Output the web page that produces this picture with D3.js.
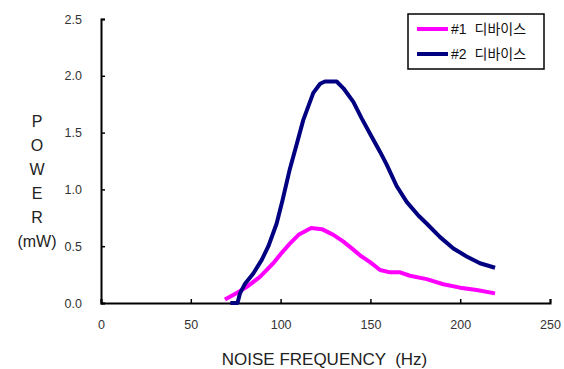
<!DOCTYPE html>
<html>
<head>
<meta charset="utf-8">
<script src="https://cdn.jsdelivr.net/npm/d3@7"></script>
<style>
  body { margin: 0; background: #fff; }
  text { font-family: "Liberation Sans", "Noto Sans CJK KR", sans-serif; }
</style>
</head>
<body>
<div id="chart"></div>
<script>
// values
const xTicks = [0, 50, 100, 150, 200, 250];
const yTicks = [0, 0.5, 1.0, 1.5, 2.0, 2.5];
const seriesTags = ["#1", "#2"];
const seriesNames = ["디바이스", "디바이스"];
const seriesColors = ["#ff00ff", "#000080"];

const dev1 = [
  [69, 0.03], [74.6, 0.08], [81, 0.14], [88.5, 0.23], [95.9, 0.35], [100, 0.43],
  [105, 0.52], [110, 0.6], [117, 0.66], [123, 0.65], [129.4, 0.6], [135, 0.54],
  [140.5, 0.47], [144.2, 0.42], [149.8, 0.36], [155.4, 0.29], [160.9, 0.27],
  [166.5, 0.27], [172, 0.24], [181.3, 0.21], [190.6, 0.165], [199.9, 0.135],
  [209.2, 0.115], [219.4, 0.085]
];
const dev2 = [
  [72, 0.0], [76, 0.0], [77.4, 0.085], [80.2, 0.17], [84.8, 0.26], [89.5, 0.38],
  [93.2, 0.5], [97.8, 0.7], [101, 0.9], [105, 1.17], [109, 1.4], [112.6, 1.61],
  [118.2, 1.85], [122, 1.93], [124.7, 1.95], [131.2, 1.95], [135, 1.89],
  [140.5, 1.77], [145, 1.63], [149.8, 1.49], [155.4, 1.33], [159, 1.22],
  [164.6, 1.03], [170.2, 0.89], [176.7, 0.77], [181.3, 0.7], [188.8, 0.58],
  [196.2, 0.48], [203.6, 0.41], [211, 0.35], [219.4, 0.31]
];

const width = 564, height = 369;
const margin = { left: 101, right: 14, top: 19, bottom: 66 };

const svg = d3.select("#chart").append("svg")
  .attr("width", width)
  .attr("height", height);

const x = d3.scaleLinear().domain([0, 250]).range([margin.left, width - margin.right]);
const y = d3.scaleLinear().domain([0, 2.5]).range([height - margin.bottom, margin.top]);

// x axis, ticks pointing inward
const xAxis = svg.append("g")
  .attr("transform", "translate(0," + y(0) + ")")
  .call(d3.axisBottom(x).tickValues(xTicks).tickSize(-4).tickPadding(17).tickFormat(d3.format("d")));
xAxis.select(".domain").attr("stroke", "#000").attr("stroke-width", 2);
xAxis.selectAll(".tick line").attr("stroke", "#000").attr("stroke-width", 1.5);
xAxis.selectAll("text").attr("font-size", 12.5).attr("fill", "#333");

// y axis
const yAxis = svg.append("g")
  .attr("transform", "translate(" + x(0) + ",0)")
  .call(d3.axisLeft(y).tickValues(yTicks).tickSize(-4).tickPadding(19).tickFormat(d3.format(".1f")));
yAxis.select(".domain").attr("stroke", "#000").attr("stroke-width", 2);
yAxis.selectAll(".tick line").attr("stroke", "#000").attr("stroke-width", 1.5);
yAxis.selectAll("text").attr("font-size", 12.5).attr("fill", "#333");

// lines
const line = d3.line().x(d => x(d[0])).y(d => y(d[1]));
[dev1, dev2].forEach((data, i) => {
  svg.append("path")
    .datum(data)
    .attr("fill", "none")
    .attr("stroke", seriesColors[i])
    .attr("stroke-width", 4)
    .attr("stroke-linejoin", "round")
    .attr("d", line);
});

// axis titles
const xTitle = svg.append("text")
  .attr("x", x(125) - 1)
  .attr("y", 365)
  .attr("text-anchor", "middle")
  .attr("font-size", 17)
  .attr("fill", "#222");
xTitle.append("tspan").text("NOISE FREQUENCY");
xTitle.append("tspan").attr("dx", 9).text("(Hz)");

const yTitle = ["P", "O", "W", "E", "R", "(mW)"];
svg.append("g").selectAll("text")
  .data(yTitle)
  .enter()
  .append("text")
  .attr("x", 37)
  .attr("y", (d, i) => 127 + i * 24)
  .attr("text-anchor", "middle")
  .attr("font-size", 16)
  .attr("fill", "#222")
  .text(d => d);

// legend
const legend = svg.append("g");
legend.append("rect")
  .attr("x", 408).attr("y", 14)
  .attr("width", 136).attr("height", 55)
  .attr("fill", "#fff")
  .attr("stroke", "#000")
  .attr("stroke-width", 1.5);
seriesNames.forEach((name, i) => {
  const ly = 29 + i * 25;
  legend.append("line")
    .attr("x1", 417).attr("x2", 448)
    .attr("y1", ly).attr("y2", ly)
    .attr("stroke", seriesColors[i])
    .attr("stroke-width", 4);
  const t = legend.append("text")
    .attr("x", 451).attr("y", ly + 5)
    .attr("font-size", 14)
    .attr("fill", "#111");
  t.append("tspan").text(seriesTags[i]);
  t.append("tspan").attr("dx", 8).text(name);
});
</script>
</body>
</html>
